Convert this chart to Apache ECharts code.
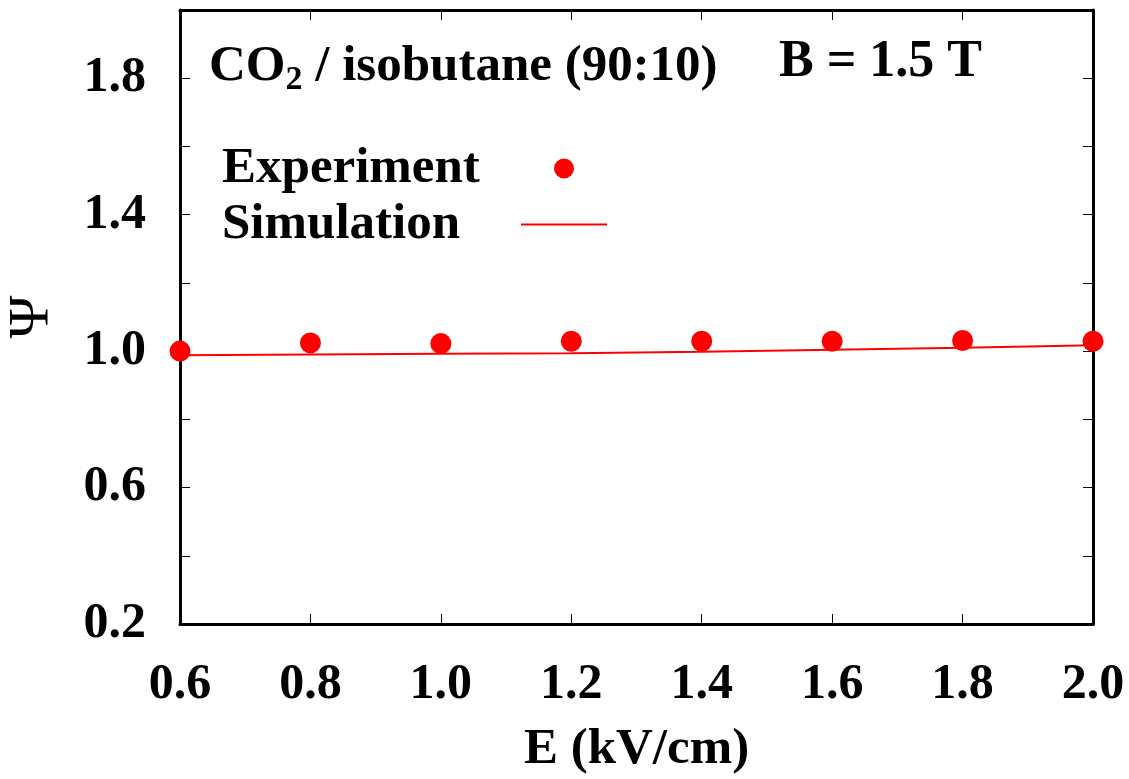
<!DOCTYPE html>
<html><head><meta charset="utf-8">
<script src="https://cdn.jsdelivr.net/npm/echarts@6/dist/echarts.min.js"></script>
<style>html,body{margin:0;padding:0;background:#fff}#c{width:1129px;height:779px}</style>
</head><body><div id="c"></div>
<script>
const E_exp = [0.6, 0.8, 1.0, 1.2, 1.4, 1.6, 1.8, 2.0];
const psi_exp = [1.00, 1.024, 1.022, 1.029, 1.029, 1.029, 1.031, 1.029];
const E_sim = [0.6, 0.8, 1.0, 1.2, 1.4, 1.6, 1.8, 2.0];
const psi_sim = [0.988, 0.990, 0.992, 0.994, 0.998, 1.004, 1.010, 1.017];
const xTicks = ['0.6','0.8','1.0','1.2','1.4','1.6','1.8','2.0'];
const yTickLabels = ['0.2','0.6','1.0','1.4','1.8'];

const font = '"Liberation Serif", "Times New Roman", serif';
const chart = echarts.init(document.getElementById('c'));
const axisCommon = {
  axisLine: {show: true, lineStyle: {color: '#000', width: 3}},
  axisTick: {show: true, inside: true, length: 10, lineStyle: {color: '#000', width: 1}},
  splitLine: {show: false}
};
chart.setOption({
  animation: false,
  backgroundColor: '#fff',
  title: [
    {text: '{a|CO}{s|2}{a| / isobutane (90:10)}', left: 209, top: 37, padding: 0,
     textStyle: {rich: {a: {fontFamily: font, fontWeight: 'bold', fontSize: 51, color: '#000'},
                        s: {fontFamily: font, fontWeight: 'bold', fontSize: 34, color: '#000', verticalAlign: 'bottom', padding: [26,0,0,0]}}}},
    {text: 'B = 1.5 T', left: 779, top: 37, padding: 0,
     textStyle: {fontFamily: font, fontWeight: 'bold', fontSize: 52, color: '#000'}}
  ],
  legend: {
    orient: 'vertical', align: 'right', left: 222, top: 143, padding: 0,
    itemWidth: 86, itemHeight: 20, itemGap: 5,
    formatter: '{t|{name}}',
    textStyle: {rich: {t: {fontFamily: font, fontWeight: 'bold', fontSize: 51, color: '#000', width: 294, lineHeight: 55, align: 'left'}}},
    data: [
      {name: 'Experiment', icon: 'circle'},
      {name: 'Simulation', icon: 'path://M0,0H86V2H0Z'}
    ]
  },
  grid: {left: 180, right: 36, top: 10, bottom: 155, containLabel: false, outerBoundsMode: 'none'},
  xAxis: [
    Object.assign({type: 'value', min: 0.6, max: 2.0, interval: 0.2, position: 'bottom',
      name: 'E (kV/cm)', nameLocation: 'middle', nameGap: 100,
      nameTextStyle: {fontFamily: font, fontWeight: 'bold', fontSize: 51, color: '#000'},
      axisLabel: {fontFamily: font, fontWeight: 'bold', fontSize: 50, color: '#000', margin: 36,
        formatter: v => { const i = Math.round((v - 0.6) / 0.2); return xTicks[i] || ''; }}}, axisCommon),
    Object.assign({type: 'value', min: 0.6, max: 2.0, interval: 0.2, position: 'top', axisLabel: {show: false}}, axisCommon)
  ],
  yAxis: [
    Object.assign({type: 'value', min: 0.2, max: 2.0, interval: 0.2, position: 'left',
      name: 'Ψ', nameLocation: 'middle', nameGap: 118, nameRotate: 90,
      nameTextStyle: {fontFamily: font, fontSize: 58, color: '#000'},
      axisLabel: {fontFamily: font, fontWeight: 'bold', fontSize: 50, color: '#000', margin: 34,
        formatter: v => { const i = Math.round((v - 0.2) / 0.2); return i % 2 === 0 ? (yTickLabels[i / 2] || '') : ''; }}}, axisCommon),
    Object.assign({type: 'value', min: 0.2, max: 2.0, interval: 0.2, position: 'right', axisLabel: {show: false}}, axisCommon)
  ],
  series: [
    {name: 'Experiment', type: 'scatter', symbol: 'circle', symbolSize: 21,
     itemStyle: {color: '#ff0000', opacity: 1}, data: E_exp.map((x, i) => [x, psi_exp[i]]), z: 3},
    {name: 'Simulation', type: 'line', symbol: 'none', showSymbol: false,
     lineStyle: {color: '#ff0000', width: 2}, itemStyle: {color: '#ff0000'},
     data: E_sim.map((x, i) => [x, psi_sim[i]]), z: 2}
  ]
});
</script></body></html>
